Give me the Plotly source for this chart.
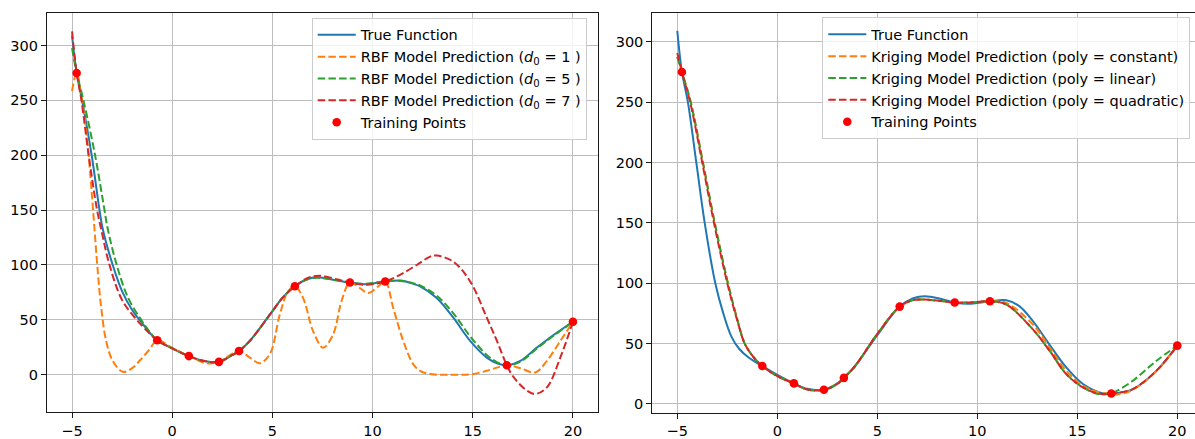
import plotly.graph_objects as go

# ---------------- data ----------------
train_x = [-4.77, -0.75, 0.83, 2.33, 3.33, 6.12, 8.87, 10.63, 16.7, 20.0]
train_y = [275.0, 31.4, 17.0, 11.7, 21.6, 80.6, 84.0, 85.0, 8.6, 48.3]

# left panel (RBF)
true_l_x = [-5, -4.77, -4.5, -4.02, -3.63, -3.47, -2.97, -2.5, -2.0, -1.63, -1.2, -0.75, 0.0, 0.83,
            1.6, 2.33, 3.0, 3.33, 3.87, 5.0, 5.5, 6.12, 6.8, 7.4, 8.2, 8.87, 9.6, 10.63, 11.4, 12.0,
            12.37, 13.2, 14.03, 14.87, 15.7, 16.2, 16.7, 17.37, 18.2, 19.03, 20]
true_l_y = [309, 275, 250, 200, 150, 133, 100, 76, 59, 50, 40, 31.4, 24, 17.0,
            12.5, 11.7, 18, 21.6, 30.8, 57.9, 70, 80.6, 87.5, 88.7, 86, 84, 82.5, 85, 85.8, 83,
            80.5, 70, 52, 30.8, 15.6, 10.5, 8.6, 12.6, 24.7, 36.2, 48.3]

rbf1_x = [-5, -4.77, -4.5, -4.25, -4.08, -3.95, -3.72, -3.55, -3.3, -2.97, -2.47, -2.0, -1.63, -1.13,
          -0.75, 0.0, 0.83, 1.7, 2.33, 2.8, 3.33, 3.87, 4.37, 4.87, 5.37, 5.78, 6.12, 6.53, 7.03,
          7.53, 8.03, 8.45, 8.87, 9.37, 9.78, 10.28, 10.63, 11.03, 11.53, 12.03, 12.37, 12.87, 13.5,
          14.2, 14.87, 15.7, 16.2, 16.7, 17.37, 18.12, 18.7, 19.37, 20]
rbf1_y = [258.5, 275, 250, 215, 180, 150, 95, 62, 31, 12.7, 2.7, 6, 12.7, 23.2,
          31.4, 24.5, 17.0, 10.5, 11.7, 17, 21.6, 15.7, 10.5, 18.7, 54.9, 76, 80.6, 70, 39.8,
          24.7, 36.7, 67, 84, 79, 74.5, 80.5, 85, 60.9, 30.8, 9.6, 3.6, 0.6, 0,
          0, 0.3, 3.6, 6.5, 8.6, 6, 2.1, 12.7, 30.8, 48.3]

rbf5_x = [-5, -4.77, -4.43, -3.85, -3.38, -3.22, -2.77, -2.2, -1.55, -1.2, -0.75, 0.0, 0.83,
          1.6, 2.33, 3.0, 3.33, 3.87, 5.0, 5.5, 6.12, 6.8, 7.4, 8.2, 8.87, 9.6, 10.63, 11.4, 12.0,
          12.37, 13.2, 14.03, 14.87, 15.7, 16.2, 16.7, 17.37, 18.2, 19.03, 20]
rbf5_y = [297.7, 275, 250, 200, 150, 133, 100, 70, 50, 41, 31.4, 24, 17.0,
          12.5, 11.7, 18, 21.6, 30.8, 57.9, 70, 80.6, 87.3, 88.2, 86, 84, 82.8, 85, 85.5, 83.5,
          81.5, 72, 56, 35, 18, 11.5, 8.6, 11.8, 24, 35.5, 48.3]

rbf7_x = [-5, -4.77, -4.53, -4.17, -3.75, -3.55, -3.13, -2.5, -1.77, -1.2, -0.75, 0.0, 0.83,
          1.6, 2.33, 3.0, 3.33, 3.87, 5.0, 5.5, 6.12, 6.8, 7.37, 8.2, 8.87, 9.7, 10.63, 11.37,
          12.2, 12.87, 13.2, 14.03, 14.87, 15.7, 16.2, 16.7, 17.03, 17.7, 18.12, 18.7, 19.37, 20]
rbf7_y = [312.8, 275, 250, 200, 150, 133, 100, 68, 50, 39, 31.4, 24, 17.0,
          12.5, 11.7, 18, 21.6, 30.8, 57.9, 70, 80.6, 88.5, 90.2, 87, 84, 82, 85, 91,
          100, 107.6, 108.6, 103, 85, 52, 31, 8.6, -2, -14.5, -17.5, -11.5, 15.7, 48.3]

# right panel (Kriging)
true_r_x = [-5, -4.77, -4.47, -4.05, -3.63, -3.1, -2.7, -2.3, -1.9, -1.4, -0.75, 0.0, 0.83,
            1.5, 2.33, 3.0, 3.33, 3.87, 5.0, 6.12, 6.8, 7.37, 8.2, 8.87, 9.55, 10.63, 11.45,
            12.1, 12.78, 13.6, 14.45, 15.28, 16.1, 16.7, 17.78, 18.95, 20]
true_r_y = [309, 275, 250, 200, 150, 100, 75, 56, 45.5, 38, 31.4, 24, 17.0,
            12.5, 11.7, 17, 21.6, 31, 57, 80.6, 87.5, 89.2, 87, 84, 82.9, 85, 85.8,
            81, 68.6, 49.4, 30.2, 16.5, 9.6, 8.6, 12.3, 27.4, 48.3]

kr_x = [-5, -4.77, -4.33, -3.72, -3.13, -2.47, -2.0, -1.63, -1.2, -0.75, 0.0, 0.83, 1.5, 2.33,
        3.0, 3.33, 3.87, 5.0, 6.12, 6.8, 7.4, 8.2, 8.87, 9.6, 10.63, 11.45, 12.78, 13.62, 14.45,
        15.28, 16.1, 16.7, 17.0, 17.78, 18.95, 20]
kr_const_y = [287.4, 275, 250, 200, 150, 100, 70, 50, 39, 31.4, 23, 17.0, 12, 11.7,
              16.5, 21.6, 31, 58, 80.6, 86, 86.4, 85.2, 84, 84, 85, 83.6, 65.8, 46.6, 27.4,
              15.1, 9.6, 8.6, 7.8, 11.8, 27, 48.3]
kr_lin_y = [287.4, 275, 250, 200, 150, 100, 70, 50, 39, 31.4, 23, 17.0, 12, 11.7,
            16.5, 21.6, 31, 58, 80.6, 86, 86.4, 85.2, 84, 84, 85, 82.3, 61.7, 43.9, 24.7,
            13.7, 8, 8.6, 11, 19.2, 35.6, 48.3]
kr_quad_y = [290.7, 275, 248, 197, 147, 98, 69, 50, 39, 31.4, 23, 17.0, 12, 11.7,
             16.5, 21.6, 31, 58, 80.6, 86, 86.4, 85.2, 84, 84, 85, 82.3, 61.7, 43.9, 24.7,
             13.7, 8.5, 8.6, 9.2, 12.3, 27.4, 48.3]

x_ticks = [-5, 0, 5, 10, 15, 20]
y_ticks = [0, 50, 100, 150, 200, 250, 300]

rbf_labels = ["True Function",
              "RBF Model Prediction (<i>d</i><sub>0</sub> = 1 )",
              "RBF Model Prediction (<i>d</i><sub>0</sub> = 5 )",
              "RBF Model Prediction (<i>d</i><sub>0</sub> = 7 )",
              "Training Points"]
kr_labels = ["True Function",
             "Kriging Model Prediction (poly = constant)",
             "Kriging Model Prediction (poly = linear)",
             "Kriging Model Prediction (poly = quadratic)",
             "Training Points"]

# ---------------- styling ----------------
W, H = 1195, 439
FONT = "DejaVu Sans"
FS = 14.5
C_BLUE, C_ORANGE, C_GREEN, C_RED = "#1f77b4", "#ff7f0e", "#2ca02c", "#d62728"
LW = 2.0
DASH = "7.5px,3.2px"

fig = go.Figure()


def line(x, y, color, name, xa, ya, leg, dash=None):
    fig.add_trace(go.Scatter(
        x=x, y=y, mode="lines", name=name, xaxis=xa, yaxis=ya, legend=leg,
        line=dict(color=color, width=LW, dash=dash or "solid", shape="spline", smoothing=1.0),
        hoverinfo="skip"))


def points(xa, ya, leg, name):
    fig.add_trace(go.Scatter(
        x=train_x, y=train_y, mode="markers", name=name, xaxis=xa, yaxis=ya, legend=leg,
        marker=dict(color="red", size=8.6, line=dict(width=0)), hoverinfo="skip"))


# left panel
line(true_l_x, true_l_y, C_BLUE, rbf_labels[0], "x", "y", "legend")
line(rbf1_x, rbf1_y, C_ORANGE, rbf_labels[1], "x", "y", "legend", DASH)
line(rbf5_x, rbf5_y, C_GREEN, rbf_labels[2], "x", "y", "legend", DASH)
line(rbf7_x, rbf7_y, C_RED, rbf_labels[3], "x", "y", "legend", DASH)
points("x", "y", "legend", rbf_labels[4])

# right panel
line(true_r_x, true_r_y, C_BLUE, kr_labels[0], "x2", "y2", "legend2")
line(kr_x, kr_const_y, C_ORANGE, kr_labels[1], "x2", "y2", "legend2", DASH)
line(kr_x, kr_lin_y, C_GREEN, kr_labels[2], "x2", "y2", "legend2", DASH)
line(kr_x, kr_quad_y, C_RED, kr_labels[3], "x2", "y2", "legend2", DASH)
points("x2", "y2", "legend2", kr_labels[4])

axis_common = dict(
    showgrid=True, gridcolor="#bdbdbd", gridwidth=1.1, zeroline=False,
    showline=True, linecolor="#1a1a1a", linewidth=1.1,
    ticks="outside", ticklen=5, tickwidth=1.1, tickcolor="#1a1a1a",
    tickfont=dict(family=FONT, size=FS, color="#000000"),
)

legend_common = dict(
    xanchor="left", yanchor="top", bgcolor="rgba(255,255,255,0.8)",
    bordercolor="#cccccc", borderwidth=1, itemwidth=38,
    font=dict(family=FONT, size=FS, color="#000000"), tracegroupgap=0,
)

top_px, bot_px_l, bot_px_r = 13, 415, 415.7
fig.update_layout(
    width=W, height=H, autosize=False,
    margin=dict(l=0, r=0, t=0, b=0, pad=0),
    paper_bgcolor="white", plot_bgcolor="white",
    font=dict(family=FONT, size=FS, color="#000000"),
    xaxis=dict(domain=[47 / W, 598 / W], range=[-6.25, 21.25], tickvals=x_ticks,
               mirror=True, anchor="y", **axis_common),
    yaxis=dict(domain=[(H - bot_px_l) / H, (H - top_px) / H], range=[-34.1, 329.7],
               tickvals=y_ticks, mirror=True, anchor="x", **axis_common),
    xaxis2=dict(domain=[652.3 / W, 1.0], range=[-6.25, 20.885], tickvals=x_ticks,
                mirror=True, anchor="y2", **axis_common),
    yaxis2=dict(domain=[(H - bot_px_r) / H, (H - top_px) / H], range=[-7.4, 323.9],
                tickvals=y_ticks, mirror=False, anchor="x2", **axis_common),
    legend=dict(x=311.7 / W, y=(H - 18) / H, **legend_common),
    legend2=dict(x=822.3 / W, y=(H - 17.5) / H, **legend_common),
    showlegend=True,
)

fig.write_html(
    "out.html",
    config={"displayModeBar": False},
    post_script="document.body.style.margin='0px';document.body.style.padding='0px';",
)
